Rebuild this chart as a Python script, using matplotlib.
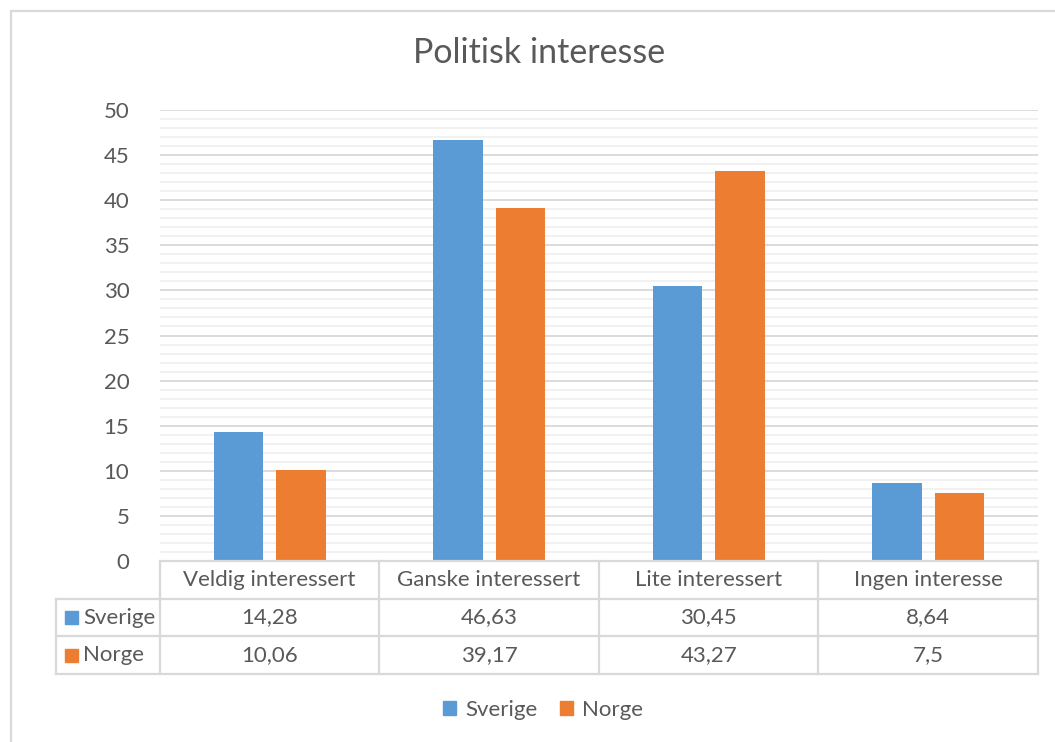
import matplotlib
matplotlib.use("Agg")
import matplotlib.pyplot as plt
from matplotlib.patches import Rectangle, Patch
import numpy as np

categories = ["Veldig interessert", "Ganske interessert", "Lite interessert", "Ingen interesse"]
series_names = ["Sverige", "Norge"]
sverige = [14.28, 46.63, 30.45, 8.64]
norge = [10.06, 39.17, 43.27, 7.5]
sverige_labels = ["14,28", "46,63", "30,45", "8,64"]
norge_labels = ["10,06", "39,17", "43,27", "7,5"]
y_ticks = [0, 5, 10, 15, 20, 25, 30, 35, 40, 45, 50]

colors = ["#5B9BD5", "#ED7D31"]
text_color = "#595959"
line_color = "#D9D9D9"
fs = 16

plt.rcParams["font.family"] = ["Lato", "DejaVu Sans"]

W, H = 1055, 742
fig = plt.figure(figsize=(W / 100, H / 100), dpi=100)


def px_rect(x0, y0, x1, y1):
    # pixel box (top-left origin) -> figure fraction
    return [x0 / W, (H - y1) / H, (x1 - x0) / W, (y1 - y0) / H]


# outer chart border (right / bottom run off the picture)
fig.patches.append(Rectangle(
    (11 / W, -0.05), 1.1, (H - 11) / H + 0.05,
    transform=fig.transFigure, fill=False,
    edgecolor=line_color, linewidth=1.6
))

ax = fig.add_axes(px_rect(160, 110, 1038, 561))
x = np.arange(len(categories))
offset = 0.142
width = 0.225

ax.bar(x - offset, sverige, width, color=colors[0], zorder=3)
ax.bar(x + offset, norge, width, color=colors[1], zorder=3)

ax.set_xlim(-0.5, len(categories) - 0.5)
ax.set_ylim(0, 50)
ax.set_yticks(y_ticks)
ax.set_yticks(np.arange(0, 51, 1), minor=True)
ax.grid(axis="y", which="major", color=line_color, linewidth=1.3, zorder=1)
ax.grid(axis="y", which="minor", color="#F0F0F0", linewidth=1.3, zorder=0)
ax.tick_params(axis="y", which="both", length=0, pad=22,
               labelsize=fs, labelcolor=text_color)
ax.set_xticks([])
for s in ax.spines.values():
    s.set_visible(False)

fig.text(539 / W, (H - 53) / H, "Politisk interesse", ha="center",
         va="center", fontsize=24.5, color=text_color)

# data table under the plot
tab = fig.add_axes(px_rect(56, 561, 1038, 674))
left = -0.5 - 104 / 220
tab.set_xlim(left, len(categories) - 0.5)
tab.set_ylim(3, 0)
tab.axis("off")

lk = dict(color=line_color, linewidth=1.6, clip_on=False)
tab.plot([-0.5, len(categories) - 0.5], [0, 0], **lk)
for r in [1, 2, 3]:
    tab.plot([left, len(categories) - 0.5], [r, r], **lk)
for c in np.arange(len(categories) + 1) - 0.5:
    tab.plot([c, c], [0, 3], **lk)
tab.plot([left, left], [1, 3], **lk)

for i, cat in enumerate(categories):
    tab.text(i, 0.5, cat, ha="center", va="center",
             fontsize=fs, color=text_color)
    tab.text(i, 1.5, sverige_labels[i], ha="center", va="center",
             fontsize=fs, color=text_color)
    tab.text(i, 2.5, norge_labels[i], ha="center", va="center",
             fontsize=fs, color=text_color)

for r, name in enumerate(series_names):
    tab.add_patch(Rectangle((left + 0.04, r + 1.5 - 0.17), 0.06, 0.34,
                            color=colors[r], clip_on=False))
    tab.text(left + 0.125, r + 1.5, name, ha="left", va="center",
             fontsize=fs, color=text_color)

handles = [Patch(color=colors[0], label=series_names[0]),
           Patch(color=colors[1], label=series_names[1])]
fig.legend(handles=handles, loc="center", bbox_to_anchor=(543 / W, (H - 710) / H),
           ncol=2, frameon=False, fontsize=fs, labelcolor=text_color,
           handlelength=0.6, handleheight=0.6, handletextpad=0.4,
           columnspacing=1.0)

fig.savefig("out.png", dpi=100)
plt.close(fig)
